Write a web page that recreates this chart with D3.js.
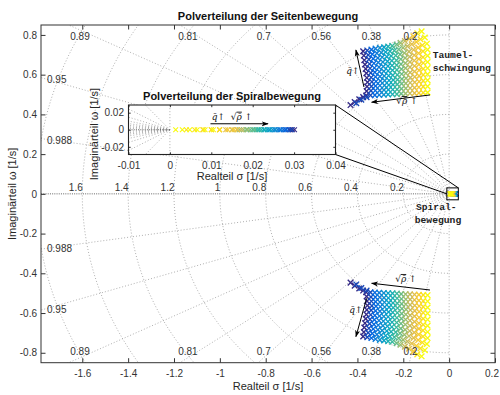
<!DOCTYPE html>
<html>
<head>
<meta charset="utf-8">
<script src="https://cdn.jsdelivr.net/npm/d3@7"></script>
<style>
  body { margin: 0; background: #fff; }
  svg { display: block; }
</style>
</head>
<body>
<svg id="chart" width="500" height="395"></svg>
<script>
// ---- s-plane grid definition ----
const dampingRatios = [0.2, 0.38, 0.56, 0.7, 0.81, 0.89, 0.95, 0.988];
const naturalFreqs = [0.2, 0.4, 0.6, 0.8, 1, 1.2, 1.4, 1.6, 1.8];

// ---- axis ticks ----
const xTicks = [-1.6, -1.4, -1.2, -1, -0.8, -0.6, -0.4, -0.2, 0, 0.2];
const yTicks = [-0.8, -0.6, -0.4, -0.2, 0, 0.2, 0.4, 0.6, 0.8];
const insetXTicks = [-0.01, 0, 0.01, 0.02, 0.03, 0.04];
const insetYTicks = [-0.02, 0, 0.02];

// ---- Dutch roll poles (upper half plane), one column per density level,
//      points ordered by increasing dynamic pressure; conjugates mirror them ----
const dutchRollPoles = [
  [[-0.430,0.447],[-0.412,0.462],[-0.392,0.476],[-0.375,0.487],[-0.362,0.495],[-0.360,0.517],[-0.358,0.540],[-0.356,0.562],[-0.359,0.584],[-0.361,0.607],[-0.364,0.629],[-0.367,0.651],[-0.370,0.673],[-0.372,0.696],[-0.375,0.718]],
  [[-0.405,0.456],[-0.383,0.474],[-0.360,0.487],[-0.343,0.496],[-0.341,0.519],[-0.339,0.541],[-0.337,0.564],[-0.340,0.586],[-0.342,0.609],[-0.345,0.632],[-0.347,0.654],[-0.350,0.677],[-0.353,0.699],[-0.357,0.722]],
  [[-0.324,0.497],[-0.322,0.520],[-0.321,0.543],[-0.319,0.566],[-0.321,0.589],[-0.324,0.612],[-0.326,0.634],[-0.328,0.657],[-0.331,0.680],[-0.335,0.703],[-0.339,0.726]],
  [[-0.305,0.498],[-0.303,0.521],[-0.302,0.545],[-0.300,0.568],[-0.302,0.591],[-0.304,0.615],[-0.306,0.638],[-0.309,0.661],[-0.311,0.684],[-0.315,0.708],[-0.321,0.731]],
  [[-0.285,0.499],[-0.284,0.523],[-0.282,0.546],[-0.281,0.570],[-0.283,0.593],[-0.285,0.617],[-0.287,0.641],[-0.289,0.664],[-0.292,0.688],[-0.296,0.711],[-0.302,0.735]],
  [[-0.266,0.500],[-0.265,0.524],[-0.263,0.548],[-0.262,0.571],[-0.264,0.595],[-0.266,0.619],[-0.267,0.643],[-0.269,0.667],[-0.272,0.690],[-0.277,0.714],[-0.284,0.738]],
  [[-0.247,0.501],[-0.246,0.525],[-0.245,0.549],[-0.244,0.573],[-0.246,0.597],[-0.247,0.622],[-0.249,0.646],[-0.250,0.670],[-0.253,0.694],[-0.258,0.718],[-0.266,0.742]],
  [[-0.228,0.502],[-0.227,0.526],[-0.226,0.551],[-0.225,0.575],[-0.226,0.599],[-0.228,0.624],[-0.229,0.648],[-0.230,0.672],[-0.233,0.696],[-0.239,0.721],[-0.248,0.745]],
  [[-0.209,0.504],[-0.208,0.529],[-0.207,0.554],[-0.206,0.578],[-0.207,0.603],[-0.208,0.628],[-0.210,0.653],[-0.211,0.678],[-0.214,0.702],[-0.220,0.727],[-0.229,0.752]],
  [[-0.190,0.505],[-0.189,0.531],[-0.189,0.556],[-0.188,0.582],[-0.189,0.607],[-0.190,0.633],[-0.191,0.658],[-0.192,0.684],[-0.195,0.709],[-0.201,0.735],[-0.212,0.760]],
  [[-0.171,0.506],[-0.170,0.532],[-0.170,0.559],[-0.169,0.585],[-0.170,0.611],[-0.171,0.638],[-0.171,0.664],[-0.172,0.690],[-0.175,0.716],[-0.182,0.743],[-0.193,0.769]],
  [[-0.151,0.507],[-0.151,0.534],[-0.150,0.562],[-0.150,0.589],[-0.151,0.616],[-0.151,0.644],[-0.152,0.671],[-0.152,0.698],[-0.155,0.725],[-0.163,0.753],[-0.175,0.780]],
  [[-0.132,0.508],[-0.132,0.537],[-0.131,0.565],[-0.131,0.594],[-0.131,0.622],[-0.132,0.651],[-0.132,0.679],[-0.133,0.708],[-0.135,0.736],[-0.143,0.765],[-0.156,0.793]],
  [[-0.113,0.509],[-0.113,0.539],[-0.113,0.569],[-0.113,0.599],[-0.113,0.629],[-0.113,0.659],[-0.114,0.688],[-0.114,0.718],[-0.117,0.748],[-0.125,0.778],[-0.139,0.808]],
  [[-0.094,0.510],[-0.094,0.541],[-0.094,0.572],[-0.094,0.602],[-0.094,0.633],[-0.094,0.664],[-0.094,0.695],[-0.094,0.726],[-0.097,0.756],[-0.106,0.787],[-0.120,0.818]]
];

// ---- spiral mode poles (real), same density levels ----
const spiralPoles = [
  [0.0290, 0.0296, 0.0301],
  [0.0279, 0.0287, 0.0294],
  [0.0266, 0.0274, 0.0281],
  [0.0253, 0.0261, 0.0268],
  [0.0240, 0.0248, 0.0255],
  [0.0227, 0.0235, 0.0242],
  [0.0213, 0.0221, 0.0229],
  [0.0200, 0.0208, 0.0216],
  [0.0185, 0.0194, 0.0203],
  [0.0168, 0.0178, 0.0188],
  [0.0150, 0.0162, 0.0173],
  [0.0120, 0.0135, 0.0150, 0.0163],
  [0.0080, 0.0100, 0.0120, 0.0140, 0.0155],
  [0.0040, 0.0060, 0.0080, 0.0100, 0.0120],
  [0.0014, 0.0030, 0.0048, 0.0066, 0.0085, 0.0105]
];

// parula colormap stops
const parulaStops = ["#352a87", "#0363e1", "#1485d4", "#06a7c6", "#38b99e",
                     "#92bf73", "#d9ba56", "#fcce2e", "#f9fb0e"];

// ---- layout ----
const sansFont = "'Liberation Sans', Arial, Helvetica, sans-serif";
const monoFont = "'Liberation Mono', 'Courier New', monospace";
const serifFont = "'DejaVu Serif', serif";

const svg = d3.select("#chart");
const box = { left: 41, right: 495, top: 25, bottom: 362.7 };
const inBox = { left: 128.5, right: 335.5, top: 105, bottom: 154.5 };

const x = d3.scaleLinear().domain([-1.78, 0.2]).range([box.left, box.right]);
const y = d3.scaleLinear().domain([-0.85, 0.85]).range([box.bottom, box.top]);
const xi = d3.scaleLinear().domain([-0.01, 0.04]).range([inBox.left, inBox.right]);
const yi = d3.scaleLinear().domain([-0.029, 0.029]).range([inBox.bottom, inBox.top]);

const nLevels = dutchRollPoles.length;
const colorOf = d3.scaleLinear()
  .domain(parulaStops.map((_, i) => i / (parulaStops.length - 1) * (nLevels - 1)))
  .range(parulaStops).interpolate(d3.interpolateRgb);

svg.append("rect").attr("width", 500).attr("height", 395).attr("fill", "#fff");

const defs = svg.append("defs");
defs.append("clipPath").attr("id", "clipMain").append("rect")
  .attr("x", box.left).attr("y", box.top)
  .attr("width", box.right - box.left).attr("height", box.bottom - box.top);
defs.append("clipPath").attr("id", "clipInset").append("rect")
  .attr("x", inBox.left).attr("y", inBox.top)
  .attr("width", inBox.right - inBox.left).attr("height", inBox.bottom - inBox.top);
defs.append("marker").attr("id", "arrowHead")
  .attr("viewBox", "0 -4 10 8").attr("refX", 9).attr("refY", 0)
  .attr("markerWidth", 7).attr("markerHeight", 5.6)
  .attr("markerUnits", "userSpaceOnUse").attr("orient", "auto")
  .append("path").attr("d", "M0,-3.5L10,0L0,3.5L2.5,0Z").attr("fill", "#000");

const gridColor = "#9a9a9a";

// damping lines, imaginary axis, real axis and (optionally) frequency circles
function drawGrid(g, xs, ys, withCircles) {
  const far = 50;
  dampingRatios.forEach(z => {
    const s = Math.sqrt(1 - z * z);
    [1, -1].forEach(sign => {
      g.append("line")
        .attr("x1", xs(0)).attr("y1", ys(0))
        .attr("x2", xs(-z * far)).attr("y2", ys(sign * s * far))
        .attr("stroke", gridColor).attr("stroke-width", 0.8)
        .attr("stroke-dasharray", "1 2");
    });
  });
  if (withCircles) {
    const line = d3.line().x(d => xs(d[0])).y(d => ys(d[1]));
    naturalFreqs.forEach(wn => {
      const pts = d3.range(90, 270.01, 1.5).map(a => {
        const r = a * Math.PI / 180;
        return [wn * Math.cos(r), wn * Math.sin(r)];
      });
      g.append("path").attr("d", line(pts)).attr("fill", "none")
        .attr("stroke", gridColor).attr("stroke-width", 0.8)
        .attr("stroke-dasharray", "1 2");
    });
  }
  // imaginary axis (zeta = 0)
  g.append("line")
    .attr("x1", xs(0)).attr("x2", xs(0))
    .attr("y1", ys(-far)).attr("y2", ys(far))
    .attr("stroke", gridColor).attr("stroke-width", 0.8)
    .attr("stroke-dasharray", "1 2");
  // real axis (zeta = 1)
  g.append("line")
    .attr("x1", xs(0)).attr("x2", xs(-far))
    .attr("y1", ys(0)).attr("y2", ys(0))
    .attr("stroke", "#555").attr("stroke-width", 0.9)
    .attr("stroke-dasharray", "1 1.2");
}

const markR = 2.8;
const crossPath = r => `M${-r},${-r}L${r},${r}M${-r},${r}L${r},${-r}`;

// ---- main plot ----
const gMain = svg.append("g").attr("clip-path", "url(#clipMain)");
drawGrid(gMain, x, y, true);

// grid labels
const gLab = svg.append("g");
function gridText(px, py, anchor, str) {
  gLab.append("text").attr("x", px).attr("y", py).attr("text-anchor", anchor)
    .attr("font-size", 10).attr("fill", "#333").style("font-family", sansFont).text(str);
}
const [xmin] = x.domain();
const [, ymax] = y.domain();
dampingRatios.forEach(z => {
  const s = Math.sqrt(1 - z * z);
  const xTop = -z * ymax / s;
  if (xTop >= xmin) {
    const yd = y.invert(box.top + 5);
    const px = x(-z * yd / s);
    gridText(px, box.top + 14.6, "middle", String(z));
    gridText(px, box.bottom - 7.4, "middle", String(z));
  } else {
    const yd = -xmin * s / z;
    gridText(box.left + 6, y(yd) + 5.6, "start", String(z));
    gridText(box.left + 6, y(-yd) + 2.6, "start", String(z));
  }
});
naturalFreqs.forEach(wn => {
  if (-wn >= xmin) gridText(x(-wn) + 0.5, y(0) - 2.5, "end", String(wn));
});

// Dutch roll poles and their conjugates
const gPts = gMain.append("g").attr("fill", "none").attr("stroke-width", 1.35);
dutchRollPoles.forEach((col, i) => {
  const c = colorOf(i);
  col.forEach(([re, im]) => {
    [im, -im].forEach(v => {
      gPts.append("path").attr("d", crossPath(markR))
        .attr("transform", `translate(${x(re)},${y(v)})`).attr("stroke", c);
    });
  });
});
// spiral poles in the main plane
const gSp = gMain.append("g").attr("fill", "none").attr("stroke-width", 1.1);
spiralPoles.forEach((col, i) => {
  const c = colorOf(i);
  col.forEach(re => {
    gSp.append("path").attr("d", crossPath(2.2))
      .attr("transform", `translate(${x(re)},${y(0)})`).attr("stroke", c);
  });
});

// annotations (data coordinates)
const annotationArrows = [
  { from: [-0.3716, 0.538], to: [-0.4065, 0.7241] },
  { from: [-0.0837, 0.4978], to: [-0.338, 0.461] },
  { from: [-0.0837, -0.484], to: [-0.338, -0.450] },
  { from: [-0.360, -0.526], to: [-0.4065, -0.719] }
];
const gAnn = svg.append("g");
annotationArrows.forEach(a => {
  gAnn.append("line")
    .attr("x1", x(a.from[0])).attr("y1", y(a.from[1]))
    .attr("x2", x(a.to[0])).attr("y2", y(a.to[1]))
    .attr("stroke", "#000").attr("stroke-width", 1)
    .attr("marker-end", "url(#arrowHead)");
});

function qLabel(g, px, py) {
  const t = g.append("text").attr("x", px).attr("y", py)
    .attr("text-anchor", "middle").attr("font-size", 9)
    .style("font-family", serifFont).attr("fill", "#111");
  t.append("tspan").attr("font-style", "italic").text("q\u0304");
  t.append("tspan").text("\u2191");
}
function rhoLabel(g, px, py) {
  const t = g.append("text").attr("x", px).attr("y", py)
    .attr("text-anchor", "middle").attr("font-size", 9)
    .style("font-family", serifFont).attr("fill", "#111");
  t.append("tspan").text("\u221A");
  t.append("tspan").attr("font-style", "italic")
    .style("text-decoration", "overline").text("\u03C1\u0304");
  t.append("tspan").text(" \u2191");
}
qLabel(gAnn, x(-0.4196), y(0.618) + 3);
rhoLabel(gAnn, x(-0.184), y(0.4675) + 3);
rhoLabel(gAnn, x(-0.1885), y(-0.4286) + 3);
qLabel(gAnn, x(-0.4065), y(-0.584) + 3);

// mode names
const gMode = svg.append("g");
function modeText(px, py, str) {
  gMode.append("text").attr("x", px).attr("y", py)
    .attr("font-size", 9.7).attr("fill", "#222").attr("font-weight", "bold")
    .style("font-family", monoFont).text(str);
}
modeText(x(-0.072), y(0.684), "Taumel-");
modeText(x(-0.072), y(0.684) + 13.4, "schwingung");
modeText(x(-0.145), y(-0.081), "Spiral-");
modeText(x(-0.150), y(-0.081) + 13.3, "bewegung");

// zoom window and connectors
const zoomWin = { x0: -0.01, x1: 0.04, y0: -0.03, y1: 0.03 };
svg.append("rect")
  .attr("x", x(zoomWin.x0)).attr("y", y(zoomWin.y1))
  .attr("width", x(zoomWin.x1) - x(zoomWin.x0))
  .attr("height", y(zoomWin.y0) - y(zoomWin.y1))
  .attr("fill", "none").attr("stroke", "#000").attr("stroke-width", 1);
svg.append("line")
  .attr("x1", inBox.right).attr("y1", inBox.top)
  .attr("x2", x(zoomWin.x1)).attr("y2", y(zoomWin.y1))
  .attr("stroke", "#000").attr("stroke-width", 1);
svg.append("line")
  .attr("x1", inBox.right).attr("y1", inBox.bottom)
  .attr("x2", x(zoomWin.x0)).attr("y2", y(0))
  .attr("stroke", "#000").attr("stroke-width", 1);

// main axes frame and ticks
const tickLen = 4.5;
function styleAxis(g) {
  g.select(".domain").remove();
  g.selectAll(".tick line").attr("stroke", "#333");
  g.selectAll(".tick text").attr("fill", "#333").attr("font-size", 10)
    .style("font-family", sansFont);
}
const xAxisG = svg.append("g").attr("transform", `translate(0,${box.bottom})`)
  .call(d3.axisBottom(x).tickValues(xTicks).tickFormat(d => String(d))
    .tickSizeInner(-tickLen).tickSizeOuter(0).tickPadding(7)).call(styleAxis);
// keep the right-most tick label inside the canvas
xAxisG.selectAll(".tick text").filter(d => d === xTicks[xTicks.length - 1])
  .attr("dx", -3.5);
svg.append("g").attr("transform", `translate(0,${box.top})`)
  .call(d3.axisTop(x).tickValues(xTicks).tickFormat("")
    .tickSizeInner(-tickLen).tickSizeOuter(0)).call(styleAxis);
svg.append("g").attr("transform", `translate(${box.left},0)`)
  .call(d3.axisLeft(y).tickValues(yTicks).tickFormat(d => String(d))
    .tickSizeInner(-tickLen).tickSizeOuter(0).tickPadding(4)).call(styleAxis);
svg.append("g").attr("transform", `translate(${box.right},0)`)
  .call(d3.axisRight(y).tickValues(yTicks).tickFormat("")
    .tickSizeInner(-tickLen).tickSizeOuter(0)).call(styleAxis);
svg.append("rect")
  .attr("x", box.left).attr("y", box.top)
  .attr("width", box.right - box.left).attr("height", box.bottom - box.top)
  .attr("fill", "none").attr("stroke", "#333").attr("stroke-width", 1);

// titles and axis labels
function label(g, px, py, str, opts = {}) {
  const t = g.append("text").attr("x", px).attr("y", py)
    .attr("text-anchor", "middle").attr("font-size", 11)
    .attr("fill", opts.bold ? "#111" : "#262626")
    .attr("font-weight", opts.bold ? "bold" : "normal")
    .style("font-family", sansFont).text(str);
  if (opts.rotate) t.attr("transform", `rotate(-90,${px},${py})`);
  return t;
}
label(svg, (box.left + box.right) / 2, 19.6, "Polverteilung der Seitenbewegung", { bold: true });
label(svg, (box.left + box.right) / 2, 390, "Realteil \u03C3 [1/s]");
label(svg, 16, (box.top + box.bottom) / 2, "Imagin\u00E4rteil \u03C9 [1/s]", { rotate: true });

// ---- inset: spiral mode close-up ----
const gInset = svg.append("g");
gInset.append("rect")
  .attr("x", inBox.left).attr("y", inBox.top)
  .attr("width", inBox.right - inBox.left).attr("height", inBox.bottom - inBox.top)
  .attr("fill", "#fff");
const gInClip = gInset.append("g").attr("clip-path", "url(#clipInset)");
drawGrid(gInClip, xi, yi, false);
const gInPts = gInClip.append("g").attr("fill", "none").attr("stroke-width", 1.1);
spiralPoles.forEach((col, i) => {
  const c = colorOf(i);
  col.forEach(re => {
    gInPts.append("path").attr("d", crossPath(2.4))
      .attr("transform", `translate(${xi(re)},${yi(0)})`).attr("stroke", c);
  });
});
// direction arrow inside inset
gInset.append("line")
  .attr("x1", xi(0.0098)).attr("y1", yi(0.007))
  .attr("x2", xi(0.0237)).attr("y2", yi(0.007))
  .attr("stroke", "#000").attr("stroke-width", 1)
  .attr("marker-end", "url(#arrowHead)");
qLabel(gInset, xi(0.0117), yi(0.0153) + 3);
rhoLabel(gInset, xi(0.0173), yi(0.0153) + 3);

const inTick = 2.2;
gInset.append("g").attr("transform", `translate(0,${inBox.bottom})`)
  .call(d3.axisBottom(xi).tickValues(insetXTicks).tickFormat(d => String(d))
    .tickSizeInner(-inTick).tickSizeOuter(0).tickPadding(7)).call(styleAxis);
gInset.append("g").attr("transform", `translate(0,${inBox.top})`)
  .call(d3.axisTop(xi).tickValues(insetXTicks).tickFormat("")
    .tickSizeInner(-inTick).tickSizeOuter(0)).call(styleAxis);
gInset.append("g").attr("transform", `translate(${inBox.left},0)`)
  .call(d3.axisLeft(yi).tickValues(insetYTicks).tickFormat(d => String(d))
    .tickSizeInner(-inTick).tickSizeOuter(0).tickPadding(4.5)).call(styleAxis);
gInset.append("g").attr("transform", `translate(${inBox.right},0)`)
  .call(d3.axisRight(yi).tickValues(insetYTicks).tickFormat("")
    .tickSizeInner(-inTick).tickSizeOuter(0)).call(styleAxis);
gInset.append("rect")
  .attr("x", inBox.left).attr("y", inBox.top)
  .attr("width", inBox.right - inBox.left).attr("height", inBox.bottom - inBox.top)
  .attr("fill", "none").attr("stroke", "#222").attr("stroke-width", 1.1);

label(gInset, (inBox.left + inBox.right) / 2, 99.6, "Polverteilung der Spiralbewegung", { bold: true });
label(gInset, (inBox.left + inBox.right) / 2, 180, "Realteil \u03C3 [1/s]");
label(gInset, 98, 134, "Imagin\u00E4rteil \u03C9 [1/s]", { rotate: true });
</script>
</body>
</html>
